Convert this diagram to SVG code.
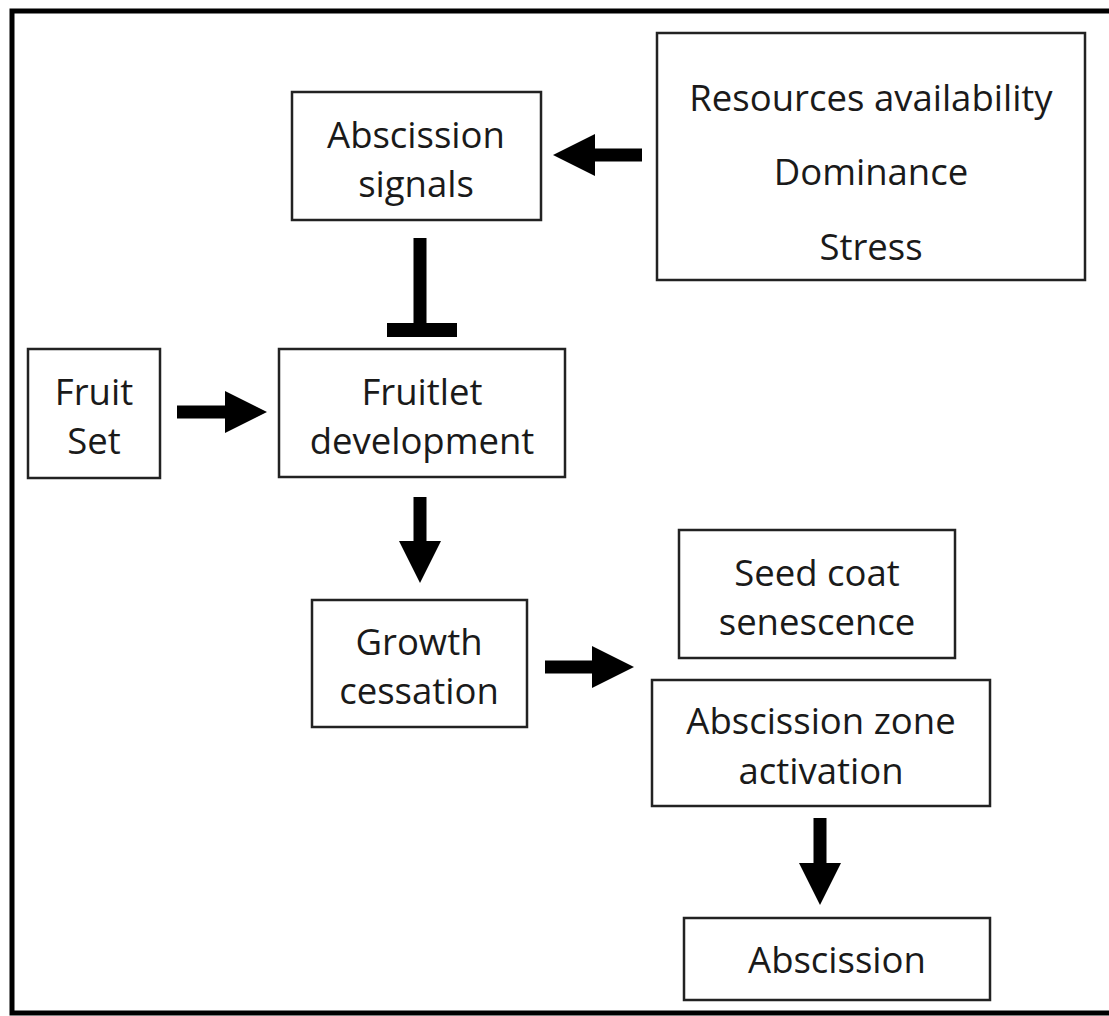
<svg xmlns="http://www.w3.org/2000/svg" width="1109" height="1016" viewBox="0 0 1109 1016">
<style>
.box{fill:#fff;stroke:#222;stroke-width:2.5}
.t{font-family:"Open Sans","Liberation Sans",sans-serif;font-size:36.5px;fill:#1a1a1a;text-anchor:middle}
.c{stroke:#000;stroke-width:13;fill:none}
</style>
<defs>
<marker id="ah" markerUnits="userSpaceOnUse" viewBox="0 0 42 42" markerWidth="42" markerHeight="42" refX="0" refY="21" orient="auto">
<path d="M0,0 L42,21 L0,42 z" fill="#000"/>
</marker>
</defs>
<rect width="1109" height="1016" fill="#fff"/>
<path d="M1115,11 H12 V1013 H1115" fill="none" stroke="#000" stroke-width="5"/>
<g id="connectors">
<line class="c" x1="642" y1="155" x2="595" y2="155" marker-end="url(#ah)"/>
<line class="c" x1="177" y1="412" x2="225" y2="412" marker-end="url(#ah)"/>
<line class="c" x1="420" y1="497" x2="420" y2="541" marker-end="url(#ah)"/>
<line class="c" x1="545" y1="667" x2="592" y2="667" marker-end="url(#ah)"/>
<line class="c" x1="820" y1="818" x2="820" y2="863" marker-end="url(#ah)"/>
<g id="inhibition">
<line class="c" x1="420" y1="238" x2="420" y2="330"/>
<line x1="387" y1="330" x2="457" y2="330" stroke="#000" stroke-width="14"/>
</g>
</g>
<g id="abscission-signals">
<rect class="box" x="292" y="92" width="249" height="128"/>
<text class="t" x="416" y="148">Abscission</text>
<text class="t" x="416" y="197">signals</text>
</g>
<g id="factors">
<rect class="box" x="657" y="33" width="428" height="247"/>
<text class="t" x="871" y="111">Resources availability</text>
<text class="t" x="871" y="185">Dominance</text>
<text class="t" x="871" y="260">Stress</text>
</g>
<g id="fruit-set">
<rect class="box" x="28" y="349" width="132" height="129"/>
<text class="t" x="94" y="405">Fruit</text>
<text class="t" x="94" y="454">Set</text>
</g>
<g id="fruitlet-development">
<rect class="box" x="279" y="349" width="286" height="128"/>
<text class="t" x="422" y="405">Fruitlet</text>
<text class="t" x="422" y="454">development</text>
</g>
<g id="growth-cessation">
<rect class="box" x="312" y="600" width="215" height="127"/>
<text class="t" x="419" y="655">Growth</text>
<text class="t" x="419" y="704">cessation</text>
</g>
<g id="seed-coat-senescence">
<rect class="box" x="679" y="530" width="276" height="128"/>
<text class="t" x="817" y="586">Seed coat</text>
<text class="t" x="817" y="635">senescence</text>
</g>
<g id="abscission-zone-activation">
<rect class="box" x="652" y="680" width="338" height="126"/>
<text class="t" x="821" y="734">Abscission zone</text>
<text class="t" x="821" y="784">activation</text>
</g>
<g id="abscission">
<rect class="box" x="684" y="918" width="306" height="82"/>
<text class="t" x="837" y="973">Abscission</text>
</g>
</svg>
